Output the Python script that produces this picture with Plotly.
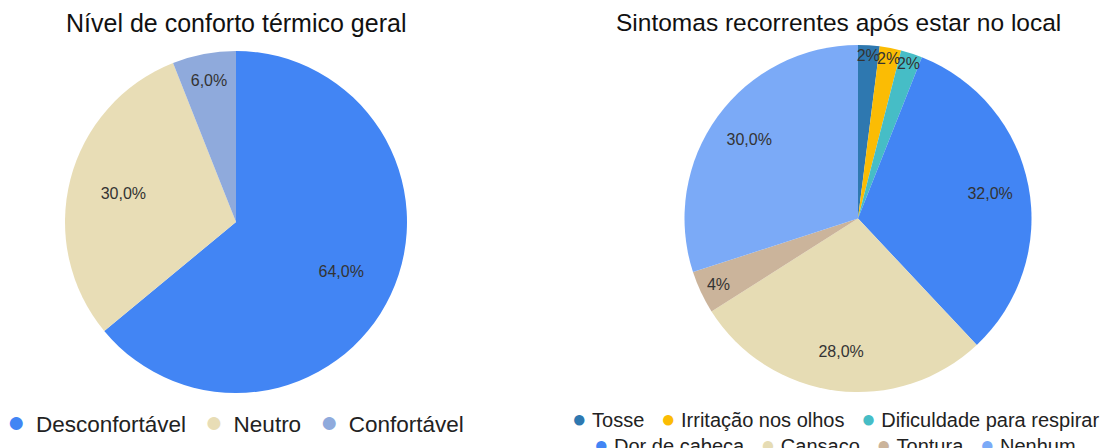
import plotly.graph_objects as go

W, H = 1108, 448

# Left chart data
conf_labels = ["Desconfortável", "Neutro", "Confortável"]
conf_values = [64, 30, 6]
conf_text = ["64,0%", "30,0%", "6,0%"]
conf_colors = ["#4285F4", "#E8DDB6", "#8FAADC"]

# Right chart data
sint_labels = ["Tosse", "Irritação nos olhos", "Dificuldade para respirar",
               "Dor de cabeça", "Cansaço", "Tontura", "Nenhum"]
sint_values = [2, 2, 2, 32, 28, 4, 30]
sint_text = ["2%", "2%", "2%", "32,0%", "28,0%", "4%", "30,0%"]
sint_colors = ["#2E78B0", "#FBBC04", "#46BDC6", "#4285F4", "#E6DCB4", "#CBB49B", "#7BAAF7"]

FONT = "Liberation Sans, Arial, sans-serif"
LABEL_COLOR = "#333333"

def px_x(v):
    return v / W

def px_y(v):
    return 1 - v / H

def add_pie(labels, values, text, colors, dom, label_hole):
    # base slices
    fig.add_trace(go.Pie(
        labels=labels, values=values,
        textinfo="none",
        marker=dict(colors=colors, line=dict(width=0)),
        sort=False, direction="clockwise", rotation=0,
        domain=dom, showlegend=False, hoverinfo="label+percent",
    ))
    # transparent ring carrying the labels further out
    fig.add_trace(go.Pie(
        labels=labels, values=values, text=text, hole=label_hole,
        textinfo="text", textposition="inside", insidetextorientation="horizontal",
        marker=dict(colors=["rgba(0,0,0,0)"] * len(values), line=dict(width=0)),
        sort=False, direction="clockwise", rotation=0,
        textfont=dict(family=FONT, size=16, color=LABEL_COLOR),
        domain=dom, showlegend=False, hoverinfo="skip",
    ))

fig = go.Figure()
add_pie(conf_labels, conf_values, conf_text, conf_colors,
        dict(x=[px_x(65), px_x(407)], y=[px_y(393), px_y(51)]), 0.36)
add_pie(sint_labels, sint_values, sint_text, sint_colors,
        dict(x=[px_x(684), px_x(1032)], y=[px_y(392), px_y(45)]), 0.55)

def legend_text(names, colors, bullet_size, gap, inner):
    parts = [f"<span style='color:{c};font-size:{bullet_size}px'>●</span>{inner}{n}"
             for n, c in zip(names, colors)]
    return gap.join(parts)

annotations = [
    dict(text="Nível de conforto térmico geral", x=px_x(236), y=px_y(23),
         xref="paper", yref="paper", xanchor="center", yanchor="middle",
         showarrow=False, font=dict(family=FONT, size=25, color="#111111")),
    dict(text="Sintomas recorrentes após estar no local", x=px_x(838), y=px_y(23),
         xref="paper", yref="paper", xanchor="center", yanchor="middle",
         showarrow=False, font=dict(family=FONT, size=24.5, color="#111111")),
    dict(text=legend_text(conf_labels, conf_colors, 30, "&nbsp;&nbsp;&nbsp;", "&nbsp;&#8201;"),
         x=px_x(235), y=px_y(421),
         xref="paper", yref="paper", xanchor="center", yanchor="middle",
         showarrow=False, font=dict(family=FONT, size=22.5, color="#222222")),
    dict(text=legend_text(sint_labels[:3], sint_colors[:3], 24, "&nbsp;&nbsp;&nbsp;", "&nbsp;"),
         x=px_x(835), y=px_y(418),
         xref="paper", yref="paper", xanchor="center", yanchor="middle",
         showarrow=False, font=dict(family=FONT, size=20, color="#222222")),
    dict(text=legend_text(sint_labels[3:], sint_colors[3:], 24, "&nbsp;&nbsp;&nbsp;", "&nbsp;"),
         x=px_x(835.5), y=px_y(444),
         xref="paper", yref="paper", xanchor="center", yanchor="middle",
         showarrow=False, font=dict(family=FONT, size=20, color="#222222")),
]

fig.update_layout(
    width=W, height=H,
    margin=dict(l=0, r=0, t=0, b=0, autoexpand=False),
    paper_bgcolor="white", plot_bgcolor="white",
    annotations=annotations,
    uniformtext=dict(minsize=15, mode="show"),
    font=dict(family=FONT),
)

fig.write_html("out.html", config={"displayModeBar": False},
               post_script="document.body.style.margin='0';document.body.style.overflow='hidden';")
